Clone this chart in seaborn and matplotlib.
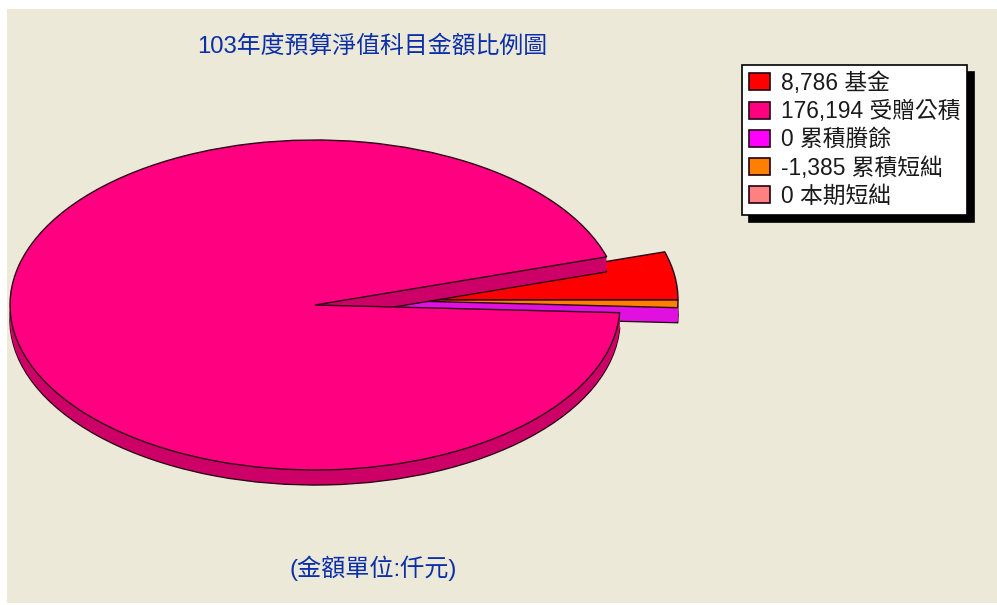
import matplotlib
matplotlib.use("Agg")
import matplotlib.pyplot as plt
from matplotlib.patches import Patch
import seaborn as sns

# data
names = ["基金", "受贈公積", "累積賸餘", "累積短絀", "本期短絀"]
values = [8786, 176194, 0, -1385, 0]
colors = ["#FF0000", "#FF0080", "#FF00FF", "#FF8000", "#FF8080"]
rim_colors = ["#FF0000", "#CC0066", "#FF00FF", "#E010E0", "#FF8080"]
title = "103年度預算淨值科目金額比例圖"
note = "(金額單位:仟元)"

sns.set_theme(style="white")
plt.rcParams["font.family"] = ["Liberation Sans", "Noto Sans CJK TC", "DejaVu Sans"]

W, H = 997, 605
BG = "#ECE9D8"
EDGE = "#2A0014"
TEXT = "#0A2FA8"
# ellipse geometry in pixels
CX, CY, RX, RY = 315, 305, 305, 165
DEPTH = 15
LEFT, RIGHT, TOP, BOTTOM = 7, 997, 9, 603

fig = plt.figure(figsize=(W / 100, H / 100), dpi=100, facecolor="white")
ax = fig.add_axes([LEFT / W, 1 - BOTTOM / H, (RIGHT - LEFT) / W, (BOTTOM - TOP) / H])

sizes = [abs(v) for v in values]
detached = {0: (58 / RX, 5 / RY), 3: (58 / RX, 5 / RY)}


def draw_pie(dy, palette, edge, lw, z_off):
    wedges, _ = ax.pie(sizes, colors=palette, startangle=0, center=(0, -dy / RY),
                       wedgeprops={"edgecolor": edge, "linewidth": lw})
    for i, w in enumerate(wedges):
        if sizes[i] == 0:
            w.set_visible(False)
            continue
        if i in detached:
            w.set_center((detached[i][0], detached[i][1] - dy / RY))
            w.set_zorder(z_off + (0 if i == 0 else 0.5))
        else:
            w.set_zorder(z_off + 2)


# side of the pie, stacked from the bottom up
draw_pie(DEPTH, rim_colors, EDGE, 1.0, 1)
for d in range(DEPTH - 1, 0, -1):
    draw_pie(d, rim_colors, "none", 0, 1 + (DEPTH - d) * 0.001)
# top surface
wedges, _ = ax.pie(sizes, colors=colors, startangle=0,
                   wedgeprops={"edgecolor": EDGE, "linewidth": 1.0})
for i, w in enumerate(wedges):
    if sizes[i] == 0:
        w.set_visible(False)
    elif i in detached:
        w.set_center(detached[i])
        w.set_zorder(2.5 if i == 0 else 2.6)
    else:
        w.set_zorder(4)

ax.set_aspect("auto")
ax.set_xlim((LEFT - CX) / RX, (RIGHT - CX) / RX)
ax.set_ylim((CY - BOTTOM) / RY, (CY - TOP) / RY)
ax.set_frame_on(True)
ax.set_facecolor(BG)
for s in ax.spines.values():
    s.set_visible(False)

fig.text(372 / W, 1 - 46 / H, title, color=TEXT, fontsize=17.2, ha="center", va="center")
fig.text(373 / W, 1 - 568 / H, note, color=TEXT, fontsize=17.4, ha="center", va="center")

handles = [Patch(facecolor=c, edgecolor="#200010", linewidth=1.2) for c in colors]
labels = [f"{v:,} {n}" for v, n in zip(values, names)]
leg = ax.legend(handles, labels, loc="upper left",
                bbox_to_anchor=(742 / W, 1 - 65 / H), bbox_transform=fig.transFigure,
                fontsize=16.4, frameon=True, fancybox=False, framealpha=1,
                edgecolor="black", facecolor="white",
                shadow={"ox": 5, "oy": -5, "color": "black", "alpha": 1},
                handlelength=0.95, handleheight=0.78, handletextpad=0.45,
                labelspacing=0.23, borderpad=0.3, borderaxespad=0)
leg.get_frame().set_linewidth(1.2)
leg.set_zorder(10)
for t in leg.get_texts():
    t.set_color("#1a1a1a")

fig.savefig("out.png", dpi=100, facecolor="white")
